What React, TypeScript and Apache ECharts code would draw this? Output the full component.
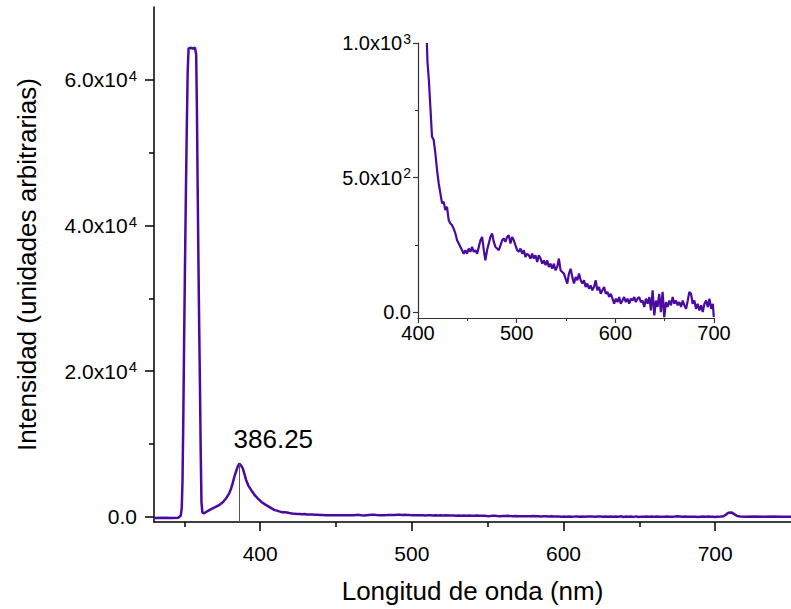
import React, { useEffect, useRef } from 'react';
import * as echarts from 'echarts';

// ---- Data ----
const peakWavelengths = [330, 336, 342, 346, 347.6, 348.3, 348.8, 349.3, 349.8, 350.4, 351.0, 351.6, 352.2, 352.8, 354, 355.5, 357.0, 357.8, 358.3, 358.8, 359.3, 359.8, 360.3, 360.8, 361.3, 361.9, 363, 366.7, 370, 373.2, 375.5, 377.6, 379.5, 380.9, 382, 383.0, 384.2, 385.2, 386.25, 387.4, 388.5, 389.6, 390.7, 392.2, 394, 396, 398.2, 400.8, 403.7, 406.5];
const peakIntensities = [-150, -120, -150, -100, 150, 1200, 5000, 13000, 23000, 34000, 44000, 53000, 61000, 64300, 64400, 64300, 64400, 63500, 56000, 45000, 35000, 26000, 18000, 9000, 2000, 600, 500, 960, 1300, 1650, 2050, 2570, 3200, 3940, 4700, 5540, 6300, 6910, 7300, 7050, 6690, 5900, 5080, 4300, 3710, 3100, 2570, 2050, 1650, 1300];

const insetWavelengths = [409.0, 409.6, 411.0, 412.5, 414.2, 415.9, 417.6, 419.3, 421.0, 422.7, 424.4, 426.0, 427.7, 429.4, 431.1, 432.8, 434.5, 436.2, 437.9, 439.6, 441.3, 443.0, 444.7, 446.3, 448.0, 449.7, 451.4, 453.1, 454.8, 456.5, 458.2, 459.9, 461.6, 463.3, 465.0, 466.7, 468.3, 470.0, 471.7, 473.4, 475.1, 476.8, 478.5, 480.2, 481.9, 483.6, 485.3, 486.9, 488.6, 490.3, 492.0, 493.7, 495.4, 497.1, 498.8, 500.5, 502.2, 503.9, 505.6, 507.3, 508.9, 510.6, 512.3, 514.0, 515.7, 517.4, 519.1, 520.8, 522.5, 524.2, 525.9, 527.6, 529.3, 531.0, 532.6, 534.3, 536.0, 537.7, 539.4, 541.1, 542.8, 544.5, 546.2, 547.9, 549.6, 551.3, 553.0, 554.7, 556.4, 558.1, 559.8, 561.5, 563.2, 564.9, 566.6, 568.3, 569.9, 571.6, 573.3, 575.0, 576.7, 578.4, 580.1, 581.8, 583.5, 585.2, 586.9, 588.6, 590.3, 592.0, 593.7, 595.4, 597.1, 598.8, 600.5, 602.2, 603.9, 605.5, 607.2, 608.9, 610.6, 612.3, 614.0, 615.7, 617.4, 619.1, 620.8, 622.5, 624.2, 625.9, 627.6, 629.3, 631.0, 632.7, 634.4, 636.1, 637.8, 639.5, 641.2, 642.8, 644.5, 646.2, 647.9, 649.6, 651.3, 653.0, 654.7, 656.4, 658.1, 659.8, 661.5, 663.2, 664.9, 666.6, 668.3, 670.0, 671.7, 673.4, 675.0, 676.7, 678.4, 680.1, 681.8, 683.5, 685.2, 686.9, 688.6, 690.3, 692.0, 693.7, 695.4, 697.1, 698.8, 699.8];
const insetIntensities = [1000, 930, 863, 764, 652, 640, 590, 528, 478, 441, 404, 410, 379, 391, 342, 329, 323, 310, 292, 267, 255, 242, 230, 217, 230, 217, 236, 224, 242, 224, 230, 217, 242, 267, 279, 230, 192, 230, 255, 279, 292, 261, 242, 236, 230, 248, 267, 273, 261, 279, 286, 255, 279, 267, 248, 230, 224, 236, 217, 230, 205, 217, 211, 199, 217, 199, 211, 186, 211, 199, 180, 192, 174, 192, 168, 180, 161, 180, 155, 168, 199, 155, 149, 143, 124, 106, 143, 161, 130, 106, 130, 118, 143, 118, 106, 118, 93, 106, 87, 99, 81, 93, 118, 81, 93, 68, 81, 93, 68, 75, 56, 68, 50, 31, 50, 37, 56, 31, 43, 56, 37, 50, 31, 50, 43, 56, 37, 50, 56, 37, 43, 19, 50, 31, 56, 6, 81, -12, 43, 19, 68, 0, 75, -19, 37, 19, 43, 25, 56, 31, 43, 25, 37, 19, 43, 25, 12, 43, 75, 68, 31, 43, 12, 31, 6, 25, 0, 31, 43, 19, 50, 12, 31, -19];

const tailWavelengths = [701.5, 703.5, 705.5, 707, 708.7, 711, 712.8, 714.5, 716.5, 720, 726, 732, 738, 744, 750];
const tailIntensities = [30, 40, 90, 300, 580, 590, 350, 120, 50, 30, 45, 25, 40, 30, 35];

const mainXTicks = [400, 500, 600, 700];
const mainXMinorTicks = [350, 450, 550, 650];
const mainYTicks = [0, 20000, 40000, 60000];
const mainYTickLabels = ['0.0', '2.0x10^4', '4.0x10^4', '6.0x10^4'];
const mainYMinorTicks = [10000, 30000, 50000];

const insetXTicks = [400, 500, 600, 700];
const insetXMinorTicks = [450, 550, 650];
const insetYTicks = [0, 500, 1000];
const insetYTickLabels = ['0.0', '5.0x10^2', '1.0x10^3'];
const insetYMinorTicks = [250, 750];

const peakLabelWavelength = 386.25;
const peakLabelIntensity = 7300;

const xTitle = 'Longitud de onda (nm)';
const yTitle = 'Intensidad (unidades arbitrarias)';

// ---- Styling ----
const FONT = 'Arial, "Liberation Sans", sans-serif';
const PURPLE = '#4a0aa0';

function toRich(label: string): string {
  const parts = label.split('^');
  return parts.length > 1 ? `{b|${parts[0]}}{s|${parts[1]}}` : `{b|${parts[0]}}`;
}

function labelFor(ticks: number[], labels: string[]) {
  return (v: number) => {
    const i = ticks.findIndex((t) => Math.abs(t - v) < 1e-6);
    return i >= 0 ? toRich(labels[i]) : '';
  };
}

function richStyles(size: number, supSize: number) {
  return {
    b: { fontSize: size, fontFamily: FONT, color: '#000', lineHeight: size + 3 },
    s: { fontSize: supSize, fontFamily: FONT, color: '#000', lineHeight: supSize, verticalAlign: 'top', padding: [0, 0, 0, 1] },
  };
}

export default function App() {
  const ref = useRef<HTMLDivElement>(null);

  useEffect(() => {
    document.body.style.margin = '0';
    if (!ref.current) return;
    const chart = echarts.init(ref.current, undefined, { renderer: 'svg' });

    const mainData: number[][] = [];
    peakWavelengths.forEach((w, i) => mainData.push([w, peakIntensities[i]]));
    insetWavelengths.forEach((w, i) => mainData.push([w, insetIntensities[i]]));
    tailWavelengths.forEach((w, i) => mainData.push([w, tailIntensities[i]]));
    const insetData = insetWavelengths.map((w, i) => [w, insetIntensities[i]]);

    const axisLineMain = { show: true, onZero: false, lineStyle: { color: '#000', width: 1.5 } };
    const axisLineInset = { show: true, onZero: false, lineStyle: { color: '#333', width: 1.2 } };

    chart.setOption({
      animation: false,
      backgroundColor: '#fff',
      grid: [
        { left: 154, top: 7, width: 642, height: 515 },
        { left: 418, top: 43, width: 296, height: 275 },
      ],
      xAxis: [
        {
          type: 'value', gridIndex: 0, position: 'bottom', min: 330, max: 750,
          axisLine: axisLineMain,
          axisTick: { show: true, customValues: mainXTicks, length: 9, lineStyle: { color: '#000', width: 1.5 } },
          axisLabel: { show: true, customValues: mainXTicks, margin: 21, fontSize: 21, color: '#000', fontFamily: FONT },
          splitLine: { show: false },
          name: xTitle, nameLocation: 'middle', nameGap: 56,
          nameTextStyle: { fontSize: 26, color: '#000', fontFamily: FONT },
        },
        {
          type: 'value', gridIndex: 0, position: 'bottom', min: 330, max: 750,
          axisLine: { show: false, onZero: false },
          axisTick: { show: true, customValues: mainXMinorTicks, length: 5, lineStyle: { color: '#000', width: 1.5 } },
          axisLabel: { show: false },
          splitLine: { show: false },
        },
        {
          type: 'value', gridIndex: 1, position: 'bottom', min: 400, max: 700,
          axisLine: axisLineInset,
          axisTick: { show: true, customValues: insetXTicks, length: 5, lineStyle: { color: '#333', width: 1.2 } },
          axisLabel: { show: true, customValues: insetXTicks, margin: 5, fontSize: 20, color: '#000', fontFamily: FONT },
          splitLine: { show: false },
        },
        {
          type: 'value', gridIndex: 1, position: 'bottom', min: 400, max: 700,
          axisLine: { show: false, onZero: false },
          axisTick: { show: true, customValues: insetXMinorTicks, length: 3, lineStyle: { color: '#333', width: 1 } },
          axisLabel: { show: false },
          splitLine: { show: false },
        },
      ],
      yAxis: [
        {
          type: 'value', gridIndex: 0, position: 'left', min: -700, max: 70000,
          axisLine: axisLineMain,
          axisTick: { show: true, customValues: mainYTicks, length: 9, lineStyle: { color: '#000', width: 1.5 } },
          axisLabel: {
            show: true, customValues: mainYTicks, margin: 17,
            formatter: labelFor(mainYTicks, mainYTickLabels),
            rich: richStyles(21, 15),
          },
          splitLine: { show: false },
          name: yTitle, nameLocation: 'middle', nameGap: 114,
          nameTextStyle: { fontSize: 26, color: '#000', fontFamily: FONT },
        },
        {
          type: 'value', gridIndex: 0, position: 'left', min: -700, max: 70000,
          axisLine: { show: false, onZero: false },
          axisTick: { show: true, customValues: mainYMinorTicks, length: 5, lineStyle: { color: '#000', width: 1.5 } },
          axisLabel: { show: false },
          splitLine: { show: false },
        },
        {
          type: 'value', gridIndex: 1, position: 'left', min: -22, max: 1000,
          axisLine: axisLineInset,
          axisTick: { show: true, customValues: insetYTicks, length: 5, lineStyle: { color: '#333', width: 1.2 } },
          axisLabel: {
            show: true, customValues: insetYTicks, margin: 7,
            formatter: labelFor(insetYTicks, insetYTickLabels),
            rich: richStyles(20, 14),
          },
          splitLine: { show: false },
        },
        {
          type: 'value', gridIndex: 1, position: 'left', min: -22, max: 1000,
          axisLine: { show: false, onZero: false },
          axisTick: { show: true, customValues: insetYMinorTicks, length: 3, lineStyle: { color: '#333', width: 1 } },
          axisLabel: { show: false },
          splitLine: { show: false },
        },
      ],
      series: [
        {
          type: 'line', xAxisIndex: 0, yAxisIndex: 0, data: mainData,
          symbol: 'none', showSymbol: false, clip: true,
          lineStyle: { color: PURPLE, width: 2.5 },
          z: 3,
          markLine: {
            silent: true, symbol: ['none', 'none'],
            lineStyle: { color: '#555', width: 1, type: 'solid' },
            label: { show: false },
            data: [[{ coord: [peakLabelWavelength, -700] }, { coord: [peakLabelWavelength, peakLabelIntensity] }]],
          },
          markPoint: {
            silent: true, symbol: 'circle', symbolSize: 1,
            itemStyle: { color: 'rgba(0,0,0,0)' },
            label: {
              show: true, position: 'inside', offset: [34, -25],
              formatter: String(peakLabelWavelength),
              fontSize: 26, color: '#000', fontFamily: FONT,
            },
            data: [{ coord: [peakLabelWavelength, peakLabelIntensity] }],
          },
        },
        {
          type: 'line', xAxisIndex: 2, yAxisIndex: 2, data: insetData,
          symbol: 'none', showSymbol: false, clip: true,
          lineStyle: { color: PURPLE, width: 2.2 },
          z: 3,
        },
      ],
    });

    return () => chart.dispose();
  }, []);

  return <div ref={ref} style={{ width: 791, height: 609 }} />;
}
